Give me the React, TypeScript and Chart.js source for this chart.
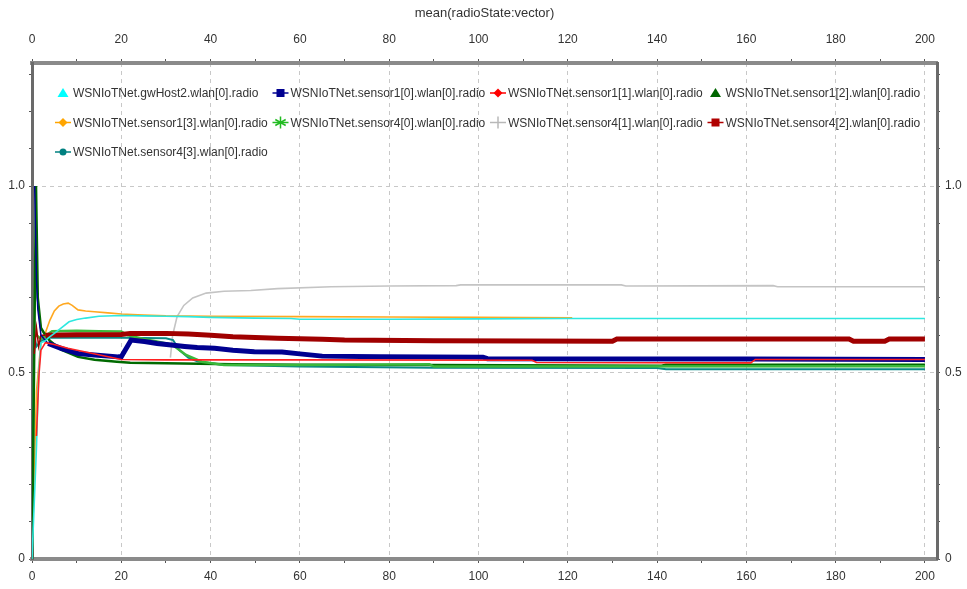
import React, { useEffect, useRef } from 'react';
import { Chart, registerables } from 'chart.js';

Chart.register(...registerables);

const chartTitle = 'mean(radioState:vector)';

const seriesNames = [
  'WSNIoTNet.gwHost2.wlan[0].radio',
  'WSNIoTNet.sensor1[0].wlan[0].radio',
  'WSNIoTNet.sensor1[1].wlan[0].radio',
  'WSNIoTNet.sensor1[2].wlan[0].radio',
  'WSNIoTNet.sensor1[3].wlan[0].radio',
  'WSNIoTNet.sensor4[0].wlan[0].radio',
  'WSNIoTNet.sensor4[1].wlan[0].radio',
  'WSNIoTNet.sensor4[2].wlan[0].radio',
  'WSNIoTNet.sensor4[3].wlan[0].radio',
];
const seriesColors = ['#2ee8e0', '#000090', '#ff2020', '#006a00', '#ffa820', '#3cb83c', '#c4c4c4', '#a00000', '#0a8a86'];
const legendColors = ['#00ffff', '#000090', '#ff0000', '#006600', '#ffa500', '#22bb22', '#b8b8b8', '#b00000', '#008080'];
const markerShapes = ['triangle', 'square', 'diamond', 'triangle', 'diamond', 'star', 'plus', 'square', 'circle'];
const lineWidths = [1.6, 5, 1.6, 2.5, 1.6, 2.5, 1.6, 5, 2];
const thinStartSegments = [0, 4, 0, 0, 0, 0, 0, 4, 0];

const xTickValues = [0, 20, 40, 60, 80, 100, 120, 140, 160, 180, 200];
const yTickValues = [0, 0.5, 1.0];

const gwHost2 = [[0, 0], [1, 0.3], [1.5, 0.5], [2, 0.58], [3, 0.585], [3.6, 0.592], [5, 0.605], [6.5, 0.619], [8.3, 0.636], [10, 0.642], [12, 0.646], [15, 0.651], [20, 0.653], [25, 0.652], [30, 0.651], [35, 0.65], [40, 0.648], [50, 0.646], [58, 0.645], [60, 0.643], [80, 0.643], [100, 0.644], [120, 0.645], [140, 0.645], [160, 0.645], [180, 0.645], [200, 0.645]];
const sensor1_0 = [[0.6, 1.0], [1, 0.75], [1.3, 0.67], [2, 0.6], [3.6, 0.578], [6.5, 0.565], [10.3, 0.551], [14, 0.547], [19.3, 0.542], [20, 0.542], [22.2, 0.587], [25.2, 0.583], [28, 0.578], [31.2, 0.574], [34.2, 0.57], [37, 0.567], [40.9, 0.565], [45, 0.56], [49.8, 0.556], [56, 0.555], [60, 0.55], [65, 0.544], [78, 0.542], [101, 0.541], [102, 0.537], [160, 0.536], [200, 0.535]];
const sensor1_1 = [[1, 0.33], [1.3, 0.42], [1.6, 0.5], [2, 0.56], [3, 0.58], [5, 0.575], [8, 0.565], [12, 0.555], [16, 0.545], [20, 0.535], [30, 0.534], [60, 0.534], [112, 0.533], [113, 0.527], [161, 0.526], [162, 0.535], [200, 0.535]];
const sensor1_2 = [[0, 0], [0.9, 1.0], [1.3, 0.7], [2, 0.62], [3, 0.6], [4, 0.585], [6.5, 0.561], [10.3, 0.542], [14, 0.534], [19, 0.529], [22, 0.526], [30, 0.525], [45, 0.522], [60, 0.521], [90, 0.52], [141, 0.518], [142, 0.521], [200, 0.521]];
const sensor1_3 = [[0, 0], [1, 0.45], [2, 0.58], [3.1, 0.61], [4, 0.64], [5, 0.665], [6, 0.678], [7, 0.684], [8.1, 0.686], [9, 0.68], [10.3, 0.668], [12, 0.665], [14, 0.663], [17, 0.66], [20, 0.657], [25, 0.654], [30, 0.652], [40, 0.651], [60, 0.65], [80, 0.649], [100, 0.648], [121, 0.647]];
const sensor4_0 = [[1, 0.6], [2, 0.59], [4.5, 0.611], [10, 0.612], [15, 0.611], [20, 0.61], [21.5, 0.6], [25, 0.59], [28, 0.583], [31.5, 0.574], [34.5, 0.547], [38, 0.529], [43, 0.52], [60, 0.52], [89, 0.522], [90, 0.516], [200, 0.517]];
const sensor4_1 = [[31, 0.54], [31.5, 0.6], [32.5, 0.65], [34, 0.68], [36, 0.7], [39, 0.713], [43, 0.718], [49, 0.72], [55, 0.725], [67, 0.73], [80, 0.732], [95, 0.733], [96, 0.735], [132, 0.735], [133, 0.732], [166, 0.733], [167, 0.73], [200, 0.73]];
const sensor4_2 = [[0.5, 0.55], [1, 0.62], [1.5, 0.57], [2, 0.6], [3, 0.6], [10, 0.601], [20, 0.602], [22, 0.605], [30, 0.605], [35, 0.603], [40, 0.6], [45, 0.596], [50, 0.594], [55, 0.592], [65, 0.589], [70, 0.587], [90, 0.585], [130, 0.584], [131, 0.59], [183, 0.59], [184, 0.584], [191, 0.584], [192, 0.59], [200, 0.59]];
const sensor4_3 = [[0, 0], [0.5, 0.6], [1, 0.57], [2, 0.585], [4, 0.593], [10, 0.593], [20, 0.593], [30, 0.592], [31.6, 0.587], [33, 0.56], [35, 0.54], [37, 0.53], [43, 0.52], [60, 0.516], [90, 0.513], [140, 0.512], [142, 0.509], [200, 0.509]];

const seriesData = [gwHost2, sensor1_0, sensor1_1, sensor1_2, sensor1_3, sensor4_0, sensor4_1, sensor4_2, sensor4_3];
const drawOrder = [2, 3, 0, 5, 6, 4, 7, 3, 5];

const FONT = "'Liberation Sans', Arial, sans-serif";
const TEXT = '#333333';

function drawMarker(ctx: CanvasRenderingContext2D, shape: string, x: number, y: number, color: string) {
  ctx.save();
  ctx.fillStyle = color;
  ctx.strokeStyle = color;
  ctx.lineWidth = 1.5;
  ctx.beginPath();
  if (shape === 'triangle') {
    ctx.moveTo(x, y - 5);
    ctx.lineTo(x + 5.5, y + 4);
    ctx.lineTo(x - 5.5, y + 4);
    ctx.closePath();
    ctx.fill();
  } else if (shape === 'square') {
    ctx.fillRect(x - 4, y - 4, 8, 8);
  } else if (shape === 'diamond') {
    ctx.moveTo(x, y - 4.5);
    ctx.lineTo(x + 4.5, y);
    ctx.lineTo(x, y + 4.5);
    ctx.lineTo(x - 4.5, y);
    ctx.closePath();
    ctx.fill();
  } else if (shape === 'circle') {
    ctx.arc(x, y, 3.5, 0, Math.PI * 2);
    ctx.fill();
  } else if (shape === 'plus') {
    ctx.moveTo(x, y - 6);
    ctx.lineTo(x, y + 6);
    ctx.stroke();
  } else if (shape === 'star') {
    for (let k = 0; k < 3; k++) {
      const a = (k * Math.PI) / 3 + Math.PI / 2;
      ctx.moveTo(x + Math.cos(a) * 6, y + Math.sin(a) * 6);
      ctx.lineTo(x - Math.cos(a) * 6, y - Math.sin(a) * 6);
    }
    ctx.stroke();
  }
  ctx.restore();
}

const legendPlugin = {
  id: 'insideLegend',
  afterDatasetsDraw(chart: any) {
    const { ctx, chartArea } = chart;
    ctx.save();
    ctx.font = `12px ${FONT}`;
    ctx.textBaseline = 'middle';
    ctx.textAlign = 'left';
    seriesNames.forEach((name, i) => {
      const col = i % 4;
      const row = Math.floor(i / 4);
      const mx = chartArea.left + 31 + col * 217.5;
      const my = chartArea.top + 30 + row * 29.5;
      const c = legendColors[i];
      if (markerShapes[i] !== 'triangle') {
        ctx.strokeStyle = c;
        ctx.lineWidth = 1.5;
        ctx.beginPath();
        ctx.moveTo(mx - 8, my);
        ctx.lineTo(mx + 8, my);
        ctx.stroke();
      }
      drawMarker(ctx, markerShapes[i], mx, my, c);
      ctx.fillStyle = TEXT;
      ctx.fillText(name, mx + 10, my + 1);
    });
    ctx.restore();
  },
};

const near = (v: number, t: number) => Math.abs(v - t) < 1e-6;

export default function App() {
  const ref = useRef<HTMLCanvasElement | null>(null);
  useEffect(() => {
    document.body.style.margin = '0';
    const canvas = ref.current;
    if (!canvas) return;
    const xLabel = (v: number) => (xTickValues.some((t) => near(v, t)) ? String(Math.round(v)) : '');
    const yLabel = (v: number) => {
      const t = yTickValues.find((t) => near(v, t));
      if (t === undefined) return '';
      return t === 0 ? '0' : t.toFixed(1);
    };
    const xGrid = (ctx: any) => {
      const v = ctx.tick ? ctx.tick.value : NaN;
      return v > 0 && xTickValues.some((t) => near(v, t)) ? '#c8c8c8' : 'rgba(0,0,0,0)';
    };
    const yGrid = (ctx: any) => {
      const v = ctx.tick ? ctx.tick.value : NaN;
      return v > 0 && yTickValues.some((t) => near(v, t)) ? '#c8c8c8' : 'rgba(0,0,0,0)';
    };
    const tickFont = { family: FONT, size: 12 };
    const xCommon = {
      type: 'linear' as const,
      min: 0,
      max: 202.7,
      ticks: { stepSize: 10, includeBounds: false, autoSkip: false, maxRotation: 0, callback: xLabel, color: TEXT, font: tickFont },
      border: { color: '#8a8a8a', width: 4, dash: [4, 4] },
    };
    const yCommon = {
      type: 'linear' as const,
      min: 0,
      max: 1.33,
      ticks: { stepSize: 0.1, includeBounds: false, autoSkip: false, callback: yLabel, color: TEXT, font: tickFont },
      border: { color: '#6a6a6a', width: 3, dash: [4, 4] },
    };
    const chart = new Chart(canvas, {
      type: 'line',
      data: {
        datasets: seriesData.map((arr, i) => ({
          label: seriesNames[i],
          data: arr.map(([x, y]) => ({ x, y })),
          borderColor: seriesColors[i],
          backgroundColor: seriesColors[i],
          borderWidth: lineWidths[i],
          segment: {
            borderWidth: (c: any) => (c.p0DataIndex < thinStartSegments[i] ? 1.5 : lineWidths[i]),
          },
          pointRadius: 0,
          tension: 0,
          fill: false,
          order: drawOrder[i],
          xAxisID: 'x',
          yAxisID: 'y',
        })),
      },
      options: {
        responsive: false,
        animation: false,
        layout: { padding: 0 },
        plugins: { legend: { display: false }, tooltip: { enabled: false }, title: { display: false } },
        scales: {
          x: {
            ...xCommon,
            position: 'bottom',
            ticks: { ...xCommon.ticks, padding: 6 },
            grid: { color: xGrid, tickColor: '#555', tickLength: 4, lineWidth: 1, drawOnChartArea: true },
            afterFit: (s: any) => { s.height = 30; },
          },
          x2: {
            ...xCommon,
            position: 'top',
            ticks: { ...xCommon.ticks, padding: 12 },
            grid: { color: 'rgba(0,0,0,0)', tickColor: '#555', tickLength: 4, drawOnChartArea: false },
            title: { display: true, text: chartTitle, color: TEXT, font: { family: FONT, size: 13 }, padding: { top: 6, bottom: 0 } },
            afterFit: (s: any) => { s.height = 63; },
          },
          y: {
            ...yCommon,
            position: 'left',
            ticks: { ...yCommon.ticks, padding: 4 },
            grid: { color: yGrid, tickColor: '#555', tickLength: 3, lineWidth: 1, drawOnChartArea: true },
            afterFit: (s: any) => { s.width = 32; },
          },
          y2: {
            ...yCommon,
            position: 'right',
            ticks: { ...yCommon.ticks, padding: 5 },
            grid: { color: 'rgba(0,0,0,0)', tickColor: '#555', tickLength: 3, drawOnChartArea: false },
            afterFit: (s: any) => { s.width = 30; },
          },
        },
      } as any,
      plugins: [legendPlugin],
    });
    return () => chart.destroy();
  }, []);
  return (
    <div style={{ width: 967, height: 589, background: '#fff' }}>
      <canvas ref={ref} width={967} height={589} style={{ display: 'block', width: 967, height: 589 }} />
    </div>
  );
}
